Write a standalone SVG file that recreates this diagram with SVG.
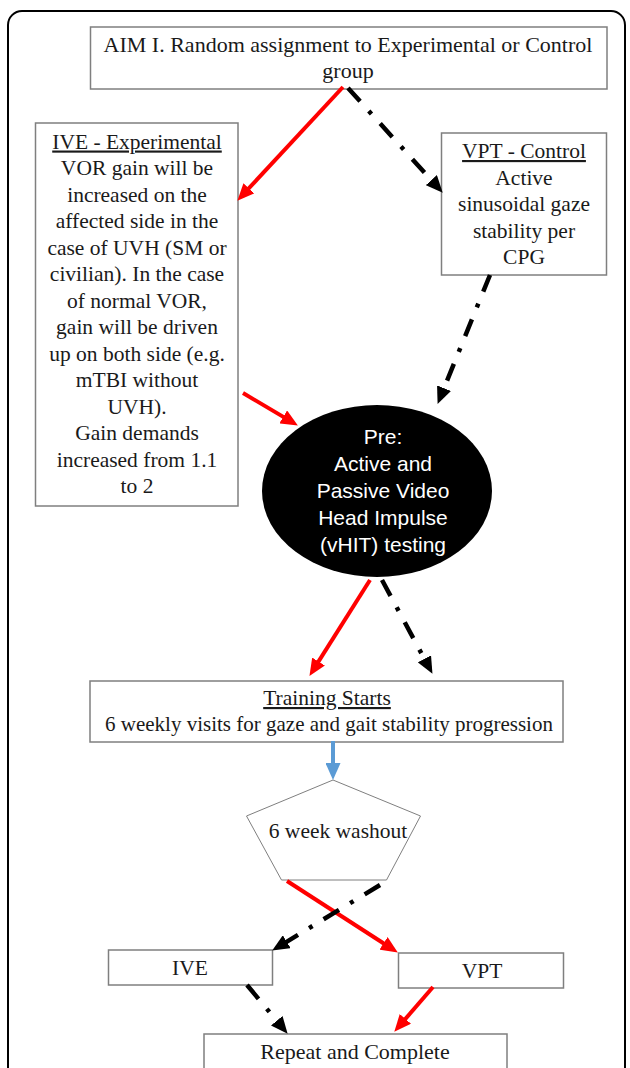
<svg xmlns="http://www.w3.org/2000/svg" width="630" height="1068" viewBox="0 0 630 1068">
<style>
.frame{fill:none;stroke:#000;stroke-width:2}
.box{fill:#fff;stroke:#7f7f7f;stroke-width:1.5}
.t{font-family:"Liberation Serif","Times New Roman",serif;font-size:21.5px;fill:#1a1a1a;text-anchor:middle}
.u{text-decoration:underline}
.w{font-family:"Liberation Sans",Arial,sans-serif;font-size:21px;fill:#fff;text-anchor:middle}
.red{fill:none;stroke:#ff0000;stroke-width:4;marker-end:url(#ar)}
.blk{fill:none;stroke:#000;stroke-width:4.5;stroke-dasharray:18 13 4 13;marker-end:url(#ab)}
.blu{fill:none;stroke:#5b9bd5;stroke-width:4;marker-end:url(#au)}
</style>
<defs>
<marker id="ar" markerUnits="userSpaceOnUse" markerWidth="17" markerHeight="15" refX="4" refY="7.5" orient="auto"><path d="M0,0 L17,7.5 L0,15 z" fill="#ff0000"/></marker>
<marker id="ab" markerUnits="userSpaceOnUse" markerWidth="17" markerHeight="15" refX="4" refY="7.5" orient="auto"><path d="M0,0 L17,7.5 L0,15 z" fill="#000"/></marker>
<marker id="au" markerUnits="userSpaceOnUse" markerWidth="17" markerHeight="15" refX="4" refY="7.5" orient="auto"><path d="M0,0 L17,7.5 L0,15 z" fill="#5b9bd5"/></marker>
</defs>
<rect class="frame" x="8" y="11" width="617" height="1100" rx="14"/>

<g id="aim">
<rect class="box" x="90.5" y="27" width="516.5" height="62"/>
<text class="t" x="348" y="52" style="font-size:22px">AIM I. Random assignment to Experimental or Control</text>
<text class="t" x="348" y="78" style="font-size:22px">group</text>
</g>

<g id="ive-exp">
<rect class="box" x="35.5" y="123" width="202.5" height="383"/>
<text class="t u" x="137" y="148.5">IVE - Experimental</text>
<text class="t" x="137" y="175">VOR gain will be</text>
<text class="t" x="137" y="201.5">increased on the</text>
<text class="t" x="137" y="228">affected side in the</text>
<text class="t" x="137" y="254.5">case of UVH (SM or</text>
<text class="t" x="137" y="281">civilian). In the case</text>
<text class="t" x="137" y="307.5">of normal VOR,</text>
<text class="t" x="137" y="334">gain will be driven</text>
<text class="t" x="137" y="360.5">up on both side (e.g.</text>
<text class="t" x="137" y="387">mTBI without</text>
<text class="t" x="137" y="413.5">UVH).</text>
<text class="t" x="137" y="440">Gain demands</text>
<text class="t" x="137" y="466.5">increased from 1.1</text>
<text class="t" x="137" y="493">to 2</text>
</g>

<g id="vpt-control">
<rect class="box" x="441.5" y="133" width="165" height="142"/>
<text class="t u" x="524" y="158">VPT - Control</text>
<text class="t" x="524" y="184.5">Active</text>
<text class="t" x="524" y="211">sinusoidal gaze</text>
<text class="t" x="524" y="237.5">stability per</text>
<text class="t" x="524" y="264">CPG</text>
</g>

<g id="pre">
<ellipse cx="377" cy="491" rx="115" ry="86" fill="#000"/>
<text class="w" x="383" y="444">Pre:</text>
<text class="w" x="383" y="471">Active and</text>
<text class="w" x="383" y="498">Passive Video</text>
<text class="w" x="383" y="525">Head Impulse</text>
<text class="w" x="383" y="552">(vHIT) testing</text>
</g>

<g id="training">
<rect class="box" x="90" y="681" width="473" height="61"/>
<text class="t u" x="327" y="705">Training Starts</text>
<text class="t" x="329" y="731" style="font-size:21px">6 weekly visits for gaze and gait stability progression</text>
</g>

<g id="washout">
<polygon points="333,780 420.5,816 386.5,880 281.5,880 246.5,816" fill="#fff" stroke="#7f7f7f" stroke-width="1"/>
<text class="t" x="338" y="838">6 week washout</text>
</g>

<g id="ive">
<rect class="box" x="108.5" y="950" width="164" height="35"/>
<text class="t" x="190" y="975">IVE</text>
</g>

<g id="vpt">
<rect class="box" x="398.5" y="953" width="165" height="35"/>
<text class="t" x="482" y="978">VPT</text>
</g>

<g id="repeat">
<rect class="box" x="204" y="1034" width="303" height="60"/>
<text class="t" x="355" y="1059" style="font-size:22px">Repeat and Complete</text>
</g>

<g id="connectors">
<line class="red" x1="343" y1="87" x2="246.2" y2="191.2"/>
<line class="red" x1="243" y1="393" x2="286.7" y2="418.9"/>
<line class="red" x1="370" y1="580" x2="316.4" y2="664.9"/>
<line class="red" x1="287" y1="881" x2="386.9" y2="945.5"/>
<line class="red" x1="433" y1="987" x2="402.8" y2="1021.9"/>
<line class="blk" x1="348" y1="88" x2="434" y2="183.1"/>
<line class="blk" x1="490" y1="275" x2="442.5" y2="391.9"/>
<line class="blk" x1="382" y1="580" x2="426.3" y2="662.4"/>
<line class="blk" x1="380" y1="885" x2="283.3" y2="943.8"/>
<line class="blk" x1="247" y1="985" x2="279.3" y2="1023.8"/>
<line class="blu" x1="333" y1="741" x2="333" y2="767"/>
</g>
</svg>
